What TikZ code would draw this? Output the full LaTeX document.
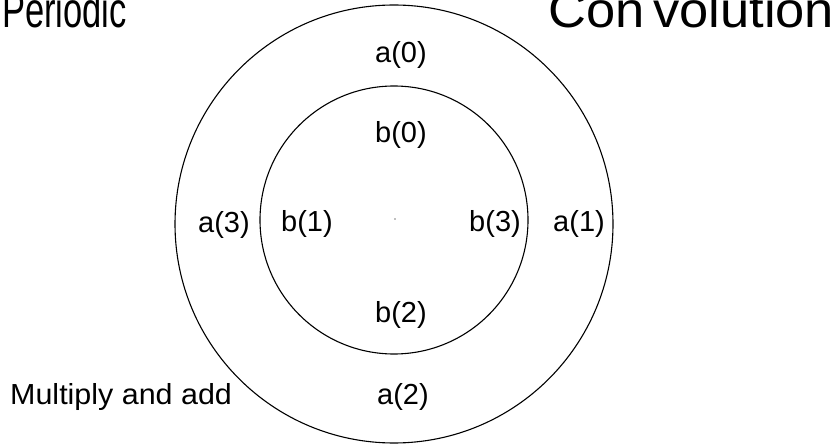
\documentclass[tikz,border=0pt]{standalone}
\usepackage{fontspec}
\setmainfont{Liberation Sans}
\begin{document}
\begin{tikzpicture}[x=1pt,y=-1pt,
  lbl/.style={inner sep=0pt,anchor=base,font=\fontsize{29}{29}\selectfont},
  big/.style={inner sep=0pt,anchor=base west,font=\fontsize{50}{50}\selectfont},
  ring/.style={draw=black,line width=1.1pt}]
\useasboundingbox (0,0) rectangle (830,446);
\node[ring,circle,minimum size=438pt,inner sep=0pt] (outer) at (394,224) {};
\node[ring,circle,minimum size=268pt,inner sep=0pt] (inner) at (394,220) {};
\fill[gray] (395,219) circle (0.8pt);
\node[big] (per) at (2,28) {\scalebox{0.69}[1]{Periodic}};
\node[big] (conv) at (548,28) {\scalebox{1.05}[1]{Con\,volution}};
\node[lbl] (a0) at (401,63) {a(0)};
\node[lbl] (b0) at (401,143) {b(0)};
\node[lbl] (b1) at (307,232) {b(1)};
\node[lbl] (b3) at (495,232) {b(3)};
\node[lbl] (a3) at (224,233) {a(3)};
\node[lbl] (a1) at (579,232) {a(1)};
\node[lbl] (b2) at (401,323) {b(2)};
\node[lbl] (a2) at (403,404) {a(2)};
\node[lbl,anchor=base west] (mul) at (10,404) {\scalebox{1.05}[1]{Multiply and add}};
\end{tikzpicture}
\end{document}
